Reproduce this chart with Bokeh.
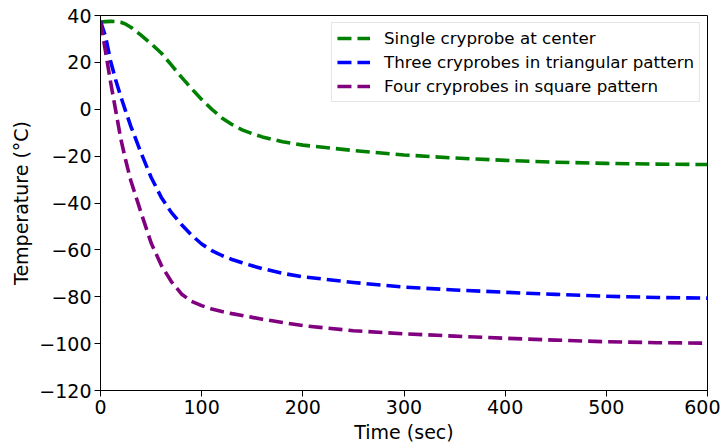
from bokeh.plotting import figure
from bokeh.models import Range1d, FixedTicker, Legend
from bokeh.embed import file_html
from bokeh.resources import INLINE

# Time points (sec)
time_s = [0, 5, 10, 15, 20, 25, 30, 40, 50, 60, 70, 80, 90, 100, 110, 120, 130,
          140, 150, 160, 180, 200, 250, 300, 350, 400, 450, 500, 550, 600]

single_center = [37.2, 37.4, 37.5, 37.4, 37.1, 36.3, 35.0, 31.6, 28.0, 24.0, 18.9,
                 13.7, 8.8, 4.2, 0.0, -3.7, -6.5, -8.8, -10.4, -11.8, -13.9, -15.3,
                 -17.6, -19.5, -20.8, -21.8, -22.6, -23.1, -23.4, -23.6]

three_triangular = [37.5, 31.0, 20.5, 12.5, 5.5, -1.0, -7.3, -18.5, -29.0, -37.5,
                    -44.0, -49.2, -53.7, -57.5, -60.3, -62.4, -64.1, -65.5, -66.8,
                    -68.0, -70.0, -71.5, -73.9, -75.9, -77.1, -78.1, -79.0, -79.8,
                    -80.3, -80.6]

four_square = [37.5, 24.5, 11.5, -0.5, -12.5, -22.0, -30.5, -44.0, -57.0, -66.5,
               -73.5, -78.8, -82.0, -83.8, -85.2, -86.3, -87.2, -88.0, -88.8, -89.6,
               -91.0, -92.3, -94.5, -95.8, -96.8, -97.7, -98.5, -99.2, -99.6, -99.8]

series_labels = ["Single cryprobe at center",
                 "Three cryprobes in triangular pattern",
                 "Four cryprobes in square pattern"]
series_colors = ["green", "blue", "purple"]

x_ticks = [0, 100, 200, 300, 400, 500, 600]
y_ticks = [-120, -100, -80, -60, -40, -20, 0, 20, 40]

FONT = "DejaVu Sans"

p = figure(frame_width=607, frame_height=375, output_backend="svg",
           toolbar_location=None,
           x_range=Range1d(0, 600), y_range=Range1d(-120, 40),
           min_border_left=100, min_border_right=13,
           min_border_top=15, min_border_bottom=50)

p.xgrid.visible = False
p.ygrid.visible = False
p.outline_line_color = "black"
p.outline_line_alpha = 1
p.outline_line_width = 1

renderers = []
for ys, col in zip([single_center, three_triangular, four_square], series_colors):
    r = p.line(time_s, ys, line_color=col, line_width=3.6, line_dash="14 6",
               line_join="round")
    renderers.append(r)

legend = Legend(items=[(lab, [r]) for lab, r in zip(series_labels, renderers)],
                location="top_right")
legend.label_text_font = FONT
legend.label_text_font_size = "16.7px"
legend.label_text_color = "black"
legend.glyph_width = 33
legend.glyph_height = 20
legend.label_height = 20
legend.label_standoff = 14
legend.spacing = 4
legend.padding = 5
legend.margin = 7
legend.border_line_color = "#cccccc"
legend.border_line_width = 1
legend.background_fill_alpha = 0.8
p.add_layout(legend)

def style_axis(ax, ticks, label):
    ax.ticker = FixedTicker(ticks=ticks)
    ax.major_label_overrides = {t: (str(t).replace("-", "\u2212")) for t in ticks}
    ax.axis_label = label
    ax.axis_label_text_font = FONT
    ax.axis_label_text_font_size = "19px"
    ax.axis_label_text_font_style = "normal"
    ax.axis_label_text_color = "black"
    ax.major_label_text_font = FONT
    ax.major_label_text_font_size = "19px"
    ax.major_label_text_color = "black"
    ax.major_tick_out = 6
    ax.major_tick_in = 0
    ax.minor_tick_out = 0
    ax.minor_tick_in = 0
    ax.major_tick_line_color = "black"
    ax.axis_line_color = "black"
    ax.major_label_standoff = 3
    ax.axis_label_standoff = 4

style_axis(p.xaxis[0], x_ticks, "Time (sec)")
style_axis(p.yaxis[0], y_ticks, "Temperature (\u00b0C)")

open("out.html", "w").write(file_html(p, INLINE))
